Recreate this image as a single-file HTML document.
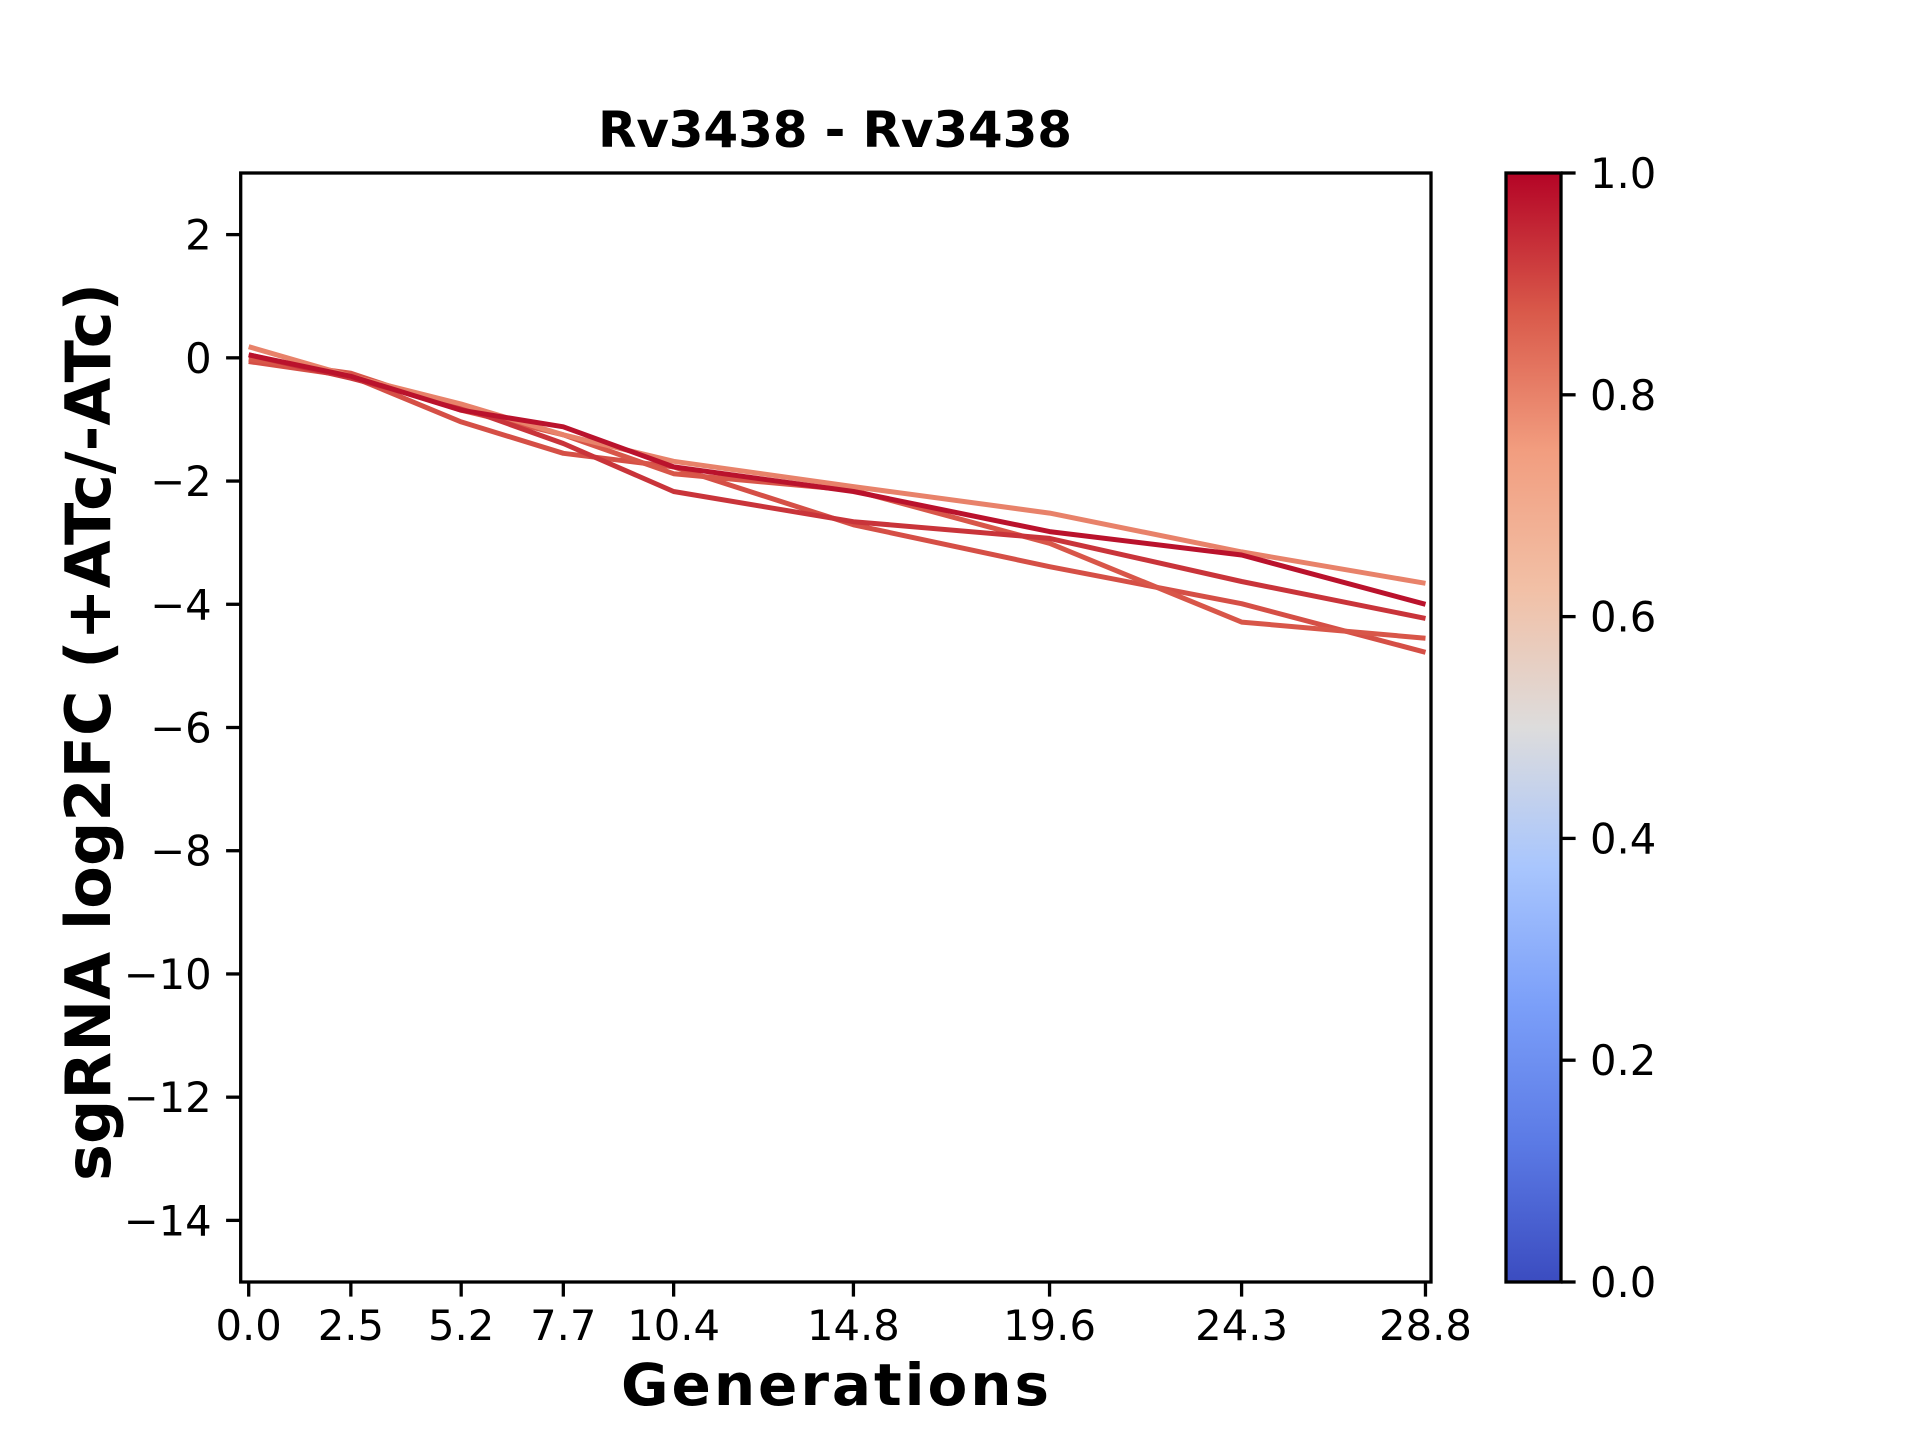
<!DOCTYPE html>
<html><head><meta charset="utf-8"><style>
html,body{margin:0;padding:0;background:#fff;}
svg{display:block;font-family:"DejaVu Sans","Liberation Sans",sans-serif;}
</style></head><body>
<svg id="chart" width="1920" height="1440" viewBox="0 0 1920 1440" xmlns="http://www.w3.org/2000/svg">
<defs>
<linearGradient id="cw" x1="0" y1="1" x2="0" y2="0">
<stop offset="0" stop-color="#3b4cc0"/>
<stop offset="0.125" stop-color="#5b7ae5"/>
<stop offset="0.25" stop-color="#7b9ff9"/>
<stop offset="0.375" stop-color="#a9c6fd"/>
<stop offset="0.5" stop-color="#dddcdc"/>
<stop offset="0.625" stop-color="#f2c0a6"/>
<stop offset="0.75" stop-color="#f29d7f"/>
<stop offset="0.875" stop-color="#d9594a"/>
<stop offset="1" stop-color="#b40426"/>
</linearGradient>
</defs>
<g id="plot"></g>
<text x="835" y="147" text-anchor="middle" font-weight="bold" font-size="50" textLength="474">Rv3438 - Rv3438</text>
<text x="835" y="1405" text-anchor="middle" font-weight="bold" font-size="58" textLength="428">Generations</text>
<text transform="translate(110,732) rotate(-90)" text-anchor="middle" font-weight="bold" font-size="62" textLength="898">sgRNA log2FC (+ATc/-ATc)</text>
<rect x="1506" y="173" width="55" height="1109" fill="url(#cw)" stroke="#000" stroke-width="3.3"/>
</svg>
<script>
const generations = [0.0, 2.5, 5.2, 7.7, 10.4, 14.8, 19.6, 24.3, 28.8];
const xTickLabels = ["0.0","2.5","5.2","7.7","10.4","14.8","19.6","24.3","28.8"];
const yTicks = [2, 0, -2, -4, -6, -8, -10, -12, -14];
const cbTicks = [0.0, 0.2, 0.4, 0.6, 0.8, 1.0];
const seriesLight = [0.18, -0.30, -0.75, -1.25, -1.68, -2.09, -2.52, -3.15, -3.66];
const seriesB = [0.05, -0.30, -0.85, -1.12, -1.77, -2.17, -2.82, -3.20, -4.00];
const seriesC = [0.05, -0.33, -0.80, -1.39, -2.17, -2.66, -2.93, -3.63, -4.23];
const seriesD = [-0.06, -0.30, -1.04, -1.55, -1.77, -2.71, -3.39, -3.99, -4.78];
const seriesE = [-0.02, -0.25, -0.85, -1.25, -1.88, -2.15, -3.01, -4.29, -4.55];
const seriesScores = [0.80, 0.98, 0.93, 0.89, 0.88];

const NS = "http://www.w3.org/2000/svg";
const L = 240.7, R = 1431, T = 173, B = 1282;
const YMIN = -15, YMAX = 3;
const xs = v => 248.7 + v * 40.86;
const ys = v => T + (YMAX - v) / (YMAX - YMIN) * (B - T);
const cby = v => B - v * (B - T);
const svg = document.getElementById("chart");
const plot = document.getElementById("plot");
function mk(tag, attrs, parent) {
  const e = document.createElementNS(NS, tag);
  for (const k in attrs) e.setAttribute(k, attrs[k]);
  (parent || svg).appendChild(e);
  return e;
}
const colorFor = s => {
  const stops = [[0.75,[242,157,127]],[0.875,[217,89,74]],[1,[180,4,38]]];
  for (let i = 0; i < stops.length - 1; i++) {
    const [a, ca] = stops[i], [b, cb] = stops[i+1];
    if (s <= b) { const t = Math.max(0,(s - a) / (b - a)); return "rgb(" + ca.map((c,j)=>Math.round(c + (cb[j]-c)*t)).join(",") + ")"; }
  }
  return "rgb(180,4,38)";
};
const allSeries = [seriesLight, seriesB, seriesC, seriesD, seriesE];
const order = [3, 4, 2, 0, 1];
order.forEach(i => {
  const pts = generations.map((g, k) => xs(g).toFixed(1) + "," + ys(allSeries[i][k]).toFixed(1)).join(" ");
  const pl = mk("polyline", {points: pts, fill: "none", stroke: colorFor(seriesScores[i]), "stroke-width": 5, "stroke-linejoin": "round"}, plot);
  
  
});
const frame = mk("rect", {x: L, y: T, width: R - L, height: B - T, fill: "none", stroke: "#000", "stroke-width": 3.3});


generations.forEach((g, k) => {
  const t = mk("line", {x1: xs(g), x2: xs(g), y1: B, y2: B + 14.6, stroke: "#000", "stroke-width": 3.3});
  
  
  const tx = mk("text", {x: xs(g), y: B + 58, "text-anchor": "middle", "font-size": 41.7});
  tx.textContent = xTickLabels[k];
  
  
});
yTicks.forEach(v => {
  const t = mk("line", {x1: L - 14.6, x2: L, y1: ys(v), y2: ys(v), stroke: "#000", "stroke-width": 3.3});
  
  
  const tx = mk("text", {x: L - 29, y: ys(v) + 15, "text-anchor": "end", "font-size": 41.7});
  tx.textContent = v < 0 ? "\u2212" + Math.abs(v) : String(v);
  
  
});
cbTicks.forEach(v => {
  const t = mk("line", {x1: 1561, x2: 1575.6, y1: cby(v), y2: cby(v), stroke: "#000", "stroke-width": 3.3});
  
  
  const tx = mk("text", {x: 1590, y: cby(v) + 15, "font-size": 41.7});
  tx.textContent = v.toFixed(1);
  
  
});
</script>
</body></html>
